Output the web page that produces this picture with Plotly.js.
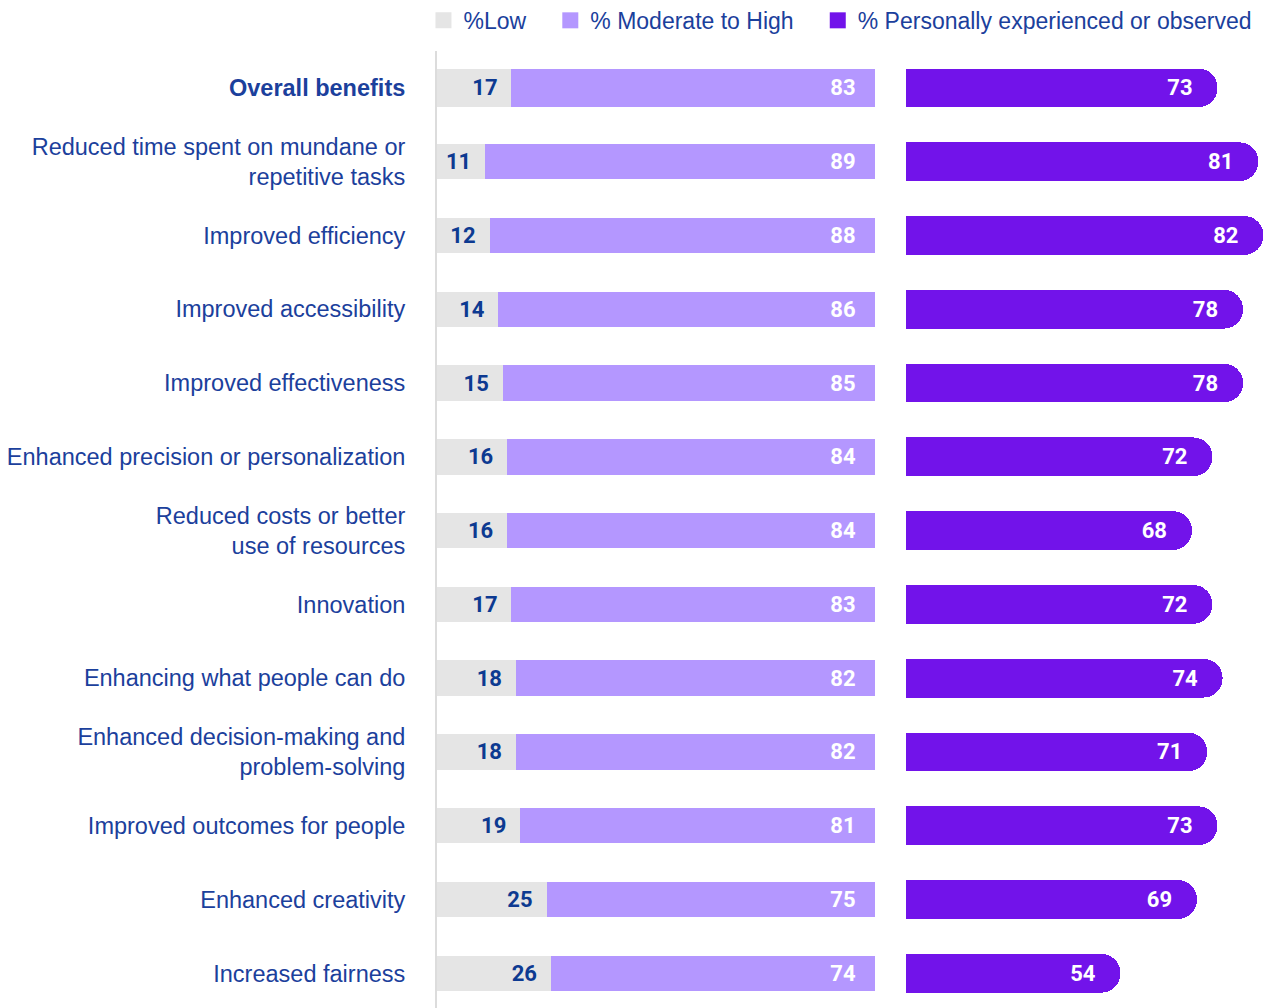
<!DOCTYPE html>
<html>
<head>
<meta charset="utf-8">
<script src="https://cdn.plot.ly/plotly-3.0.1.min.js"></script>
<style>html,body{margin:0;padding:0;background:#fff;}#chart{width:1266px;height:1008px;}</style>
</head>
<body>
<div id="chart"></div>
<script>
const categories = [
  "<b>Overall benefits</b>",
  "Reduced time spent on mundane or<br>repetitive tasks",
  "Improved efficiency",
  "Improved accessibility",
  "Improved effectiveness",
  "Enhanced precision or personalization",
  "Reduced costs or better<br>use of resources",
  "Innovation",
  "Enhancing what people can do",
  "Enhanced decision-making and<br>problem-solving",
  "Improved outcomes for people",
  "Enhanced creativity",
  "Increased fairness"
];
const seriesNames = ["%Low", "% Moderate to High", "% Personally experienced or observed"];
const lowPct = [17, 11, 12, 14, 15, 16, 16, 17, 18, 18, 19, 25, 26];
const modHighPct = [83, 89, 88, 86, 85, 84, 84, 83, 82, 82, 81, 75, 74];
const experiencedPct = [73, 81, 82, 78, 78, 72, 68, 72, 74, 71, 73, 69, 54];

const BLUE = "#1b409c";
const COLORS = ["#e5e5e5", "#b497ff", "#7213ea"];
const numFont = {family: "Roboto, sans-serif", size: 22, weight: 700};
const yIdx = categories.map((_, i) => i);
const leftWidths = yIdx.map(i => (i === 0 ? 0.525 : 0.48));
const NB = "\u00a0";

const traces = [
  {
    type: "bar", orientation: "h", name: seriesNames[0], showlegend: false,
    x: lowPct, y: yIdx, xaxis: "x", yaxis: "y",
    marker: {color: COLORS[0]},
    width: leftWidths,
    texttemplate: "%{x}" + NB + NB, textposition: "inside", insidetextanchor: "end",
    textangle: 0, textfont: Object.assign({color: "#0d3a91"}, numFont),
    hoverinfo: "skip"
  },
  {
    type: "bar", orientation: "h", name: seriesNames[1], showlegend: false,
    x: modHighPct, y: yIdx, xaxis: "x", yaxis: "y",
    marker: {color: COLORS[1]},
    width: leftWidths,
    texttemplate: "%{x}" + NB + NB + NB, textposition: "inside", insidetextanchor: "end",
    textangle: 0, textfont: Object.assign({color: "#ffffff"}, numFont),
    hoverinfo: "skip"
  },
  {
    type: "bar", orientation: "h", name: seriesNames[2], showlegend: false,
    x: experiencedPct, y: yIdx, xaxis: "x2", yaxis: "y",
    marker: {color: COLORS[2], cornerradius: "50%"},
    width: 0.525,
    texttemplate: "%{x}" + NB + NB + NB, textposition: "inside", insidetextanchor: "end",
    textangle: 0, textfont: Object.assign({color: "#ffffff"}, numFont),
    hoverinfo: "skip"
  }
];

// legend-only entries (no data), giving larger square swatches
seriesNames.forEach((nm, k) => {
  traces.push({
    type: "scatter", mode: "markers", name: nm + (k < 2 ? NB + NB + NB : ""),
    x: [null], y: [null], xaxis: "x", yaxis: "y",
    marker: {symbol: "square", size: 16, color: COLORS[k]},
    hoverinfo: "skip", showlegend: true
  });
});

const layout = {
  width: 1266, height: 1008,
  margin: {l: 0, r: 0, t: 51, b: 0, autoexpand: false},
  paper_bgcolor: "#ffffff", plot_bgcolor: "#ffffff",
  barmode: "stack",
  showlegend: true,
  legend: {
    orientation: "h", x: 0.3345, xanchor: "left", y: 1.032, yanchor: "middle",
    font: {family: "Liberation Sans, Arial, sans-serif", size: 23, color: BLUE},
    itemsizing: "trace",
    traceorder: "normal", itemclick: false, itemdoubleclick: false
  },
  uniformtext: {minsize: 22, mode: "show"},
  xaxis: {
    domain: [437 / 1266, 875 / 1266], range: [0, 100],
    showgrid: false, zeroline: false, showticklabels: false, fixedrange: true
  },
  xaxis2: {
    domain: [906 / 1266, 1], range: [12, 82.5], anchor: "y",
    showgrid: false, zeroline: false, showticklabels: false, fixedrange: true
  },
  yaxis: {
    range: [12.47, -0.5], anchor: "x",
    tickmode: "array", tickvals: yIdx, ticktext: categories,
    ticks: "", ticklabelstandoff: 25,
    tickfont: {family: "Liberation Sans, Arial, sans-serif", size: 23.5, color: BLUE},
    showline: true, linecolor: "#dcdcdc", linewidth: 2,
    showgrid: false, zeroline: false, fixedrange: true
  },
  font: {family: "Liberation Sans, Arial, sans-serif", color: BLUE}
};

Plotly.newPlot("chart", traces, layout, {displayModeBar: false, staticPlot: true});
</script>
</body>
</html>
